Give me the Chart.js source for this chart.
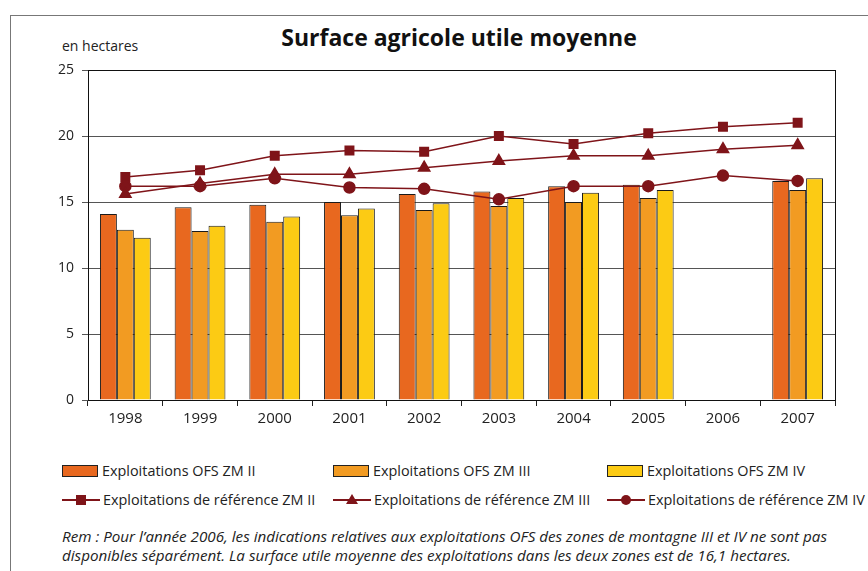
<!DOCTYPE html>
<html>
<head>
<meta charset="utf-8">
<script src="https://cdn.jsdelivr.net/npm/chart.js@4/dist/chart.umd.min.js"></script>
<style>
  body { margin: 0; background: #fff; font-family: "Open Sans", sans-serif; color: #222; }
  #wrap { position: relative; width: 868px; height: 571px; overflow: hidden; }
  #frame { position: absolute; left: 10px; top: 15px; width: 900px; height: 600px; border: 1px solid #777; }
  #title { position: absolute; left: 0; width: 918px; top: 21px; text-align: center; font-weight: bold; font-size: 23px; color: #111; }
  #unit { position: absolute; left: 62px; top: 36px; font-size: 14px; }
  #chart { position: absolute; left: 0; top: 0; }
  #legend { position: absolute; left: 0; top: 461px; width: 868px; font-size: 14.4px; }
  .item { position: absolute; display: flex; align-items: center; white-space: nowrap; }
  .box { width: 34px; height: 10px; border: 1px solid #222; margin-right: 4px; }
  .sym { position: relative; width: 38px; height: 12px; margin-right: 3px; }
  .sym .ln { position: absolute; left: 0; right: 0; top: 5px; height: 2px; }
  .sym .mk { position: absolute; left: 14px; top: 1px; width: 10px; height: 10px; }
  #note { position: absolute; left: 62px; top: 527px; font-size: 15.2px; font-style: italic; line-height: 19px; }
</style>
</head>
<body>
<div id="wrap">
  <div id="frame"></div>
  <div id="title">Surface agricole utile moyenne</div>
  <div id="unit">en hectares</div>
  <canvas id="chart" width="868" height="430"></canvas>
  <div id="legend"></div>
  <div id="note">Rem : Pour l’année 2006, les indications relatives aux exploitations OFS des zones de montagne III et IV ne sont pas<br>disponibles séparément. La surface utile moyenne des exploitations dans les deux zones est de 16,1 hectares.</div>
</div>
<script>
const years = ['1998', '1999', '2000', '2001', '2002', '2003', '2004', '2005', '2006', '2007'];
const ofsZm2 = [14.1, 14.6, 14.8, 15.0, 15.6, 15.8, 16.2, 16.3, null, 16.6];
const ofsZm3 = [12.9, 12.8, 13.5, 14.0, 14.4, 14.7, 15.0, 15.3, null, 15.9];
const ofsZm4 = [12.3, 13.2, 13.9, 14.5, 14.9, 15.3, 15.7, 15.9, null, 16.8];
const refZm2 = [16.9, 17.4, 18.5, 18.9, 18.8, 20.0, 19.4, 20.2, 20.7, 21.0];
const refZm3 = [15.6, 16.4, 17.1, 17.1, 17.6, 18.1, 18.5, 18.5, 19.0, 19.3];
const refZm4 = [16.2, 16.2, 16.8, 16.1, 16.0, 15.2, 16.2, 16.2, 17.0, 16.6];
const yTicks = [0, 5, 10, 15, 20, 25];

const red = '#7f1419';

const barSet = (label, data, color) => ({
    type: 'bar', label, data,
    backgroundColor: color, borderColor: '#1a1a1a', borderWidth: 1,
    categoryPercentage: 0.68, barPercentage: 1.0, order: 2
});
const lineSet = (label, data, style, radius) => ({
    type: 'line', label, data,
    borderColor: red, backgroundColor: red, borderWidth: 1.5,
    pointStyle: style, pointRadius: radius, pointHoverRadius: radius,
    pointBorderColor: red, pointBackgroundColor: red, order: 1
});

Chart.defaults.font.family = '"Open Sans", sans-serif';
Chart.defaults.color = '#222';

const frameBorder = {
    id: 'frameBorder',
    afterDraw(chart) {
        const { ctx, chartArea: a } = chart;
        ctx.save();
        ctx.strokeStyle = '#111';
        ctx.lineWidth = 1;
        ctx.strokeRect(a.left + 0.5, a.top + 0.5, a.right - a.left, a.bottom - a.top);
        ctx.restore();
    }
};

const chart = new Chart(document.getElementById('chart'), {
    data: {
        labels: years,
        datasets: [
            barSet('Exploitations OFS ZM II', ofsZm2, '#e8681f'),
            barSet('Exploitations OFS ZM III', ofsZm3, '#f29b22'),
            barSet('Exploitations OFS ZM IV', ofsZm4, '#fccb14'),
            lineSet('Exploitations de référence ZM II', refZm2, 'rect', 6),
            lineSet('Exploitations de référence ZM III', refZm3, 'triangle', 6.5),
            lineSet('Exploitations de référence ZM IV', refZm4, 'circle', 5.5)
        ]
    },
    options: {
        responsive: false,
        animation: false,
        layout: { padding: { top: 70, right: 33, left: 0, bottom: 0 } },
        plugins: { legend: { display: false }, tooltip: { enabled: false } },
        scales: {
            x: {
                grid: { offset: true, drawOnChartArea: false, tickLength: 6, color: '#222' },
                border: { color: '#111' },
                ticks: { font: { size: 15 }, padding: 4 },
                afterFit: s => { s.height = 30; }
            },
            y: {
                min: 0, max: 25,
                afterBuildTicks: s => { s.ticks = yTicks.map(v => ({ value: v })); },
                grid: { color: '#555', tickLength: 6 },
                border: { color: '#111' },
                ticks: { font: { size: 14 }, padding: 8 },
                afterFit: s => { s.width = 88; }
            }
        }
    },
    plugins: [frameBorder]
});

// legend built from the chart's datasets, 3 columns x 2 rows
const legend = document.getElementById('legend');
const colX = [62, 333, 607];
chart.data.datasets.forEach((ds, i) => {
    const item = document.createElement('div');
    item.className = 'item';
    item.style.left = colX[i % 3] + 'px';
    item.style.top = (i < 3 ? 0 : 29) + 'px';
    if (ds.type === 'bar') {
        const b = document.createElement('div');
        b.className = 'box';
        b.style.background = ds.backgroundColor;
        item.appendChild(b);
    } else {
        const s = document.createElement('div');
        s.className = 'sym';
        const ln = document.createElement('div');
        ln.className = 'ln';
        ln.style.background = red;
        const mk = document.createElement('div');
        mk.className = 'mk';
        if (ds.pointStyle === 'circle') {
            mk.style.background = red; mk.style.borderRadius = '50%';
        } else if (ds.pointStyle === 'triangle') {
            mk.style.width = '0'; mk.style.height = '0'; mk.style.left = '13px'; mk.style.top = '0px';
            mk.style.borderLeft = '6px solid transparent';
            mk.style.borderRight = '6px solid transparent';
            mk.style.borderBottom = '10px solid ' + red;
        } else {
            mk.style.background = red;
        }
        s.appendChild(ln);
        s.appendChild(mk);
        item.appendChild(s);
    }
    const t = document.createElement('span');
    t.textContent = ds.label;
    item.appendChild(t);
    legend.appendChild(item);
});
</script>
</body>
</html>
